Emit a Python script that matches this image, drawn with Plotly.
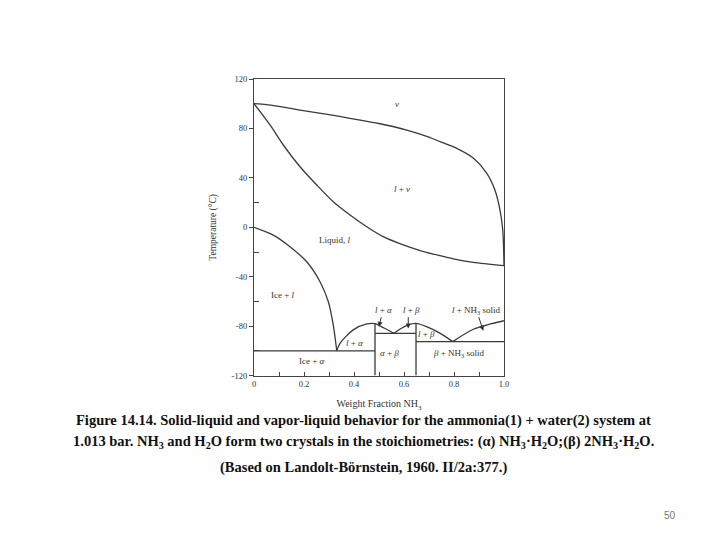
import plotly.graph_objects as go

# phase boundary data (weight fraction NH3, temperature in C)
dew_x = [0, 0.05, 0.1, 0.184, 0.3, 0.384, 0.5, 0.611, 0.7, 0.744, 0.811, 0.877, 0.93, 0.964, 0.984, 0.995, 1.0]
dew_t = [100, 99.3, 97.8, 94.9, 91.2, 88.2, 84, 78.7, 73, 69.3, 63.9, 56, 44, 30, 14, -2, -31]

bubble_x = [0, 0.064, 0.117, 0.184, 0.251, 0.317, 0.384, 0.451, 0.517, 0.597, 0.664, 0.744, 0.797, 0.877, 1.0]
bubble_t = [100, 82.8, 66.6, 49, 34.2, 20.7, 10, 0.5, -7.6, -14.3, -18.8, -23, -25.5, -28.3, -31]

ice_x = [0, 0.077, 0.144, 0.211, 0.264, 0.297, 0.317, 0.331]
ice_t = [0, -6.3, -15.7, -27.9, -44, -60, -79, -100]

alpha_x = [0.331, 0.344, 0.397, 0.451, 0.484, 0.52, 0.56]
alpha_t = [-100, -93.9, -83, -78.2, -78, -81.5, -85.8]

beta_x = [0.56, 0.59, 0.617, 0.648, 0.69, 0.745, 0.795]
beta_t = [-85.8, -81.7, -79, -77.8, -80.4, -85.8, -92.5]

nh3_x = [0.795, 0.877, 0.95, 1.0]
nh3_t = [-92.5, -82.5, -78, -75.6]

# straight boundaries: (x0, x1, t0, t1)
segments = [
    (0, 0.484, -100, -100),
    (0.484, 0.648, -85.8, -85.8),
    (0.648, 1.0, -92.5, -92.5),
    (0.484, 0.484, -120, -78),
    (0.648, 0.648, -120, -77.8),
]

region_labels = [
    ("<i>v</i>", 0.57, 100),
    ("<i>l</i> + <i>v</i>", 0.59, 31),
    ("Liquid, <i>l</i>", 0.322, -10.5),
    ("Ice + <i>l</i>", 0.117, -55),
    ("Ice + <i>α</i>", 0.231, -108),
    ("<i>l</i> + <i>α</i>", 0.4, -94),
    ("<i>α</i> + <i>β</i>", 0.54, -102),
    ("<i>l</i> + <i>β</i>", 0.69, -86.5),
    ("<i>β</i> + NH<sub>3</sub> solid", 0.817, -102),
    ("<i>l</i> + <i>α</i>", 0.517, -67),
    ("<i>l</i> + <i>β</i>", 0.63, -67),
    ("<i>l</i> + NH<sub>3</sub> solid", 0.89, -67),
]

# arrows: tail (x, t) -> tip (x, t)
arrows = [
    (0.51, -71.5, 0.50, -80.6),
    (0.617, -71.5, 0.617, -81.8),
    (0.897, -71.5, 0.917, -83.6),
]

LINE = "#3a3a3a"
SERIF = "Liberation Serif"

fig = go.Figure()
for xs, ts in [(dew_x, dew_t), (bubble_x, bubble_t), (ice_x, ice_t),
               (alpha_x, alpha_t), (beta_x, beta_t), (nh3_x, nh3_t)]:
    fig.add_trace(go.Scatter(x=xs, y=ts, mode="lines",
                             line=dict(color=LINE, width=1.3, shape="spline", smoothing=0.8),
                             showlegend=False, hoverinfo="skip"))

for x0, x1, t0, t1 in segments:
    fig.add_trace(go.Scatter(x=[x0, x1], y=[t0, t1], mode="lines",
                             line=dict(color=LINE, width=1.3),
                             showlegend=False, hoverinfo="skip"))

for txt, x, t in region_labels:
    fig.add_annotation(x=x, y=t, text=txt, showarrow=False,
                       font=dict(family=SERIF, size=9, color="#333333"))

for xa, ta, xb, tb in arrows:
    fig.add_annotation(x=xb, y=tb, ax=xa, ay=ta, axref="x", ayref="y",
                       text="", showarrow=True, arrowhead=2, arrowsize=1,
                       arrowwidth=1, arrowcolor="#333333")

caption = [
    ("Figure 14.14. Solid-liquid and vapor-liquid behavior for the ammonia(1) + water(2) system at", 0.221),
    ("1.013 bar. NH<sub>3</sub> and H<sub>2</sub>O form two crystals in the stoichiometries: "
     "(α) NH<sub>3</sub>·H<sub>2</sub>O;(β) 2NH<sub>3</sub>·H<sub>2</sub>O.", 0.181),
    ("(Based on Landolt-Börnstein, 1960. II/2a:377.)", 0.135),
]
for txt, yy in caption:
    fig.add_annotation(x=0.505, y=yy, xref="paper", yref="paper", text="<b>" + txt + "</b>",
                       xanchor="center", yanchor="middle", showarrow=False,
                       font=dict(family=SERIF, size=14.5, color="#111111"))

fig.add_annotation(x=0.93, y=0.046, xref="paper", yref="paper", text="50", showarrow=False,
                   xanchor="center", yanchor="middle",
                   font=dict(family="Liberation Sans", size=10, color="#777777"))

fig.update_layout(
    template="none",
    width=720, height=540,
    margin=dict(l=0, r=0, t=0, b=0, autoexpand=False),
    paper_bgcolor="white", plot_bgcolor="white",
    xaxis=dict(domain=[0.3528, 0.7], range=[0, 1], showgrid=False, zeroline=False, automargin=False,
               showline=True, mirror=True, linecolor="#444444", linewidth=1.2,
               ticks="inside", ticklen=4, tickcolor="#444444",
               tickvals=[0, 0.1, 0.2, 0.3, 0.4, 0.5, 0.6, 0.7, 0.8, 0.9, 1.0],
               ticktext=["0", "", "0.2", "", "0.4", "", "0.6", "", "0.8", "", "1.0"],
               tickfont=dict(family=SERIF, size=8.5, color="#333333"),
               title=dict(text="Weight Fraction NH<sub>3</sub>", standoff=12,
                          font=dict(family=SERIF, size=10, color="#333333"))),
    yaxis=dict(domain=[0.3044, 0.8537], range=[-120, 120], showgrid=False, zeroline=False, automargin=False,
               showline=True, mirror=True, linecolor="#444444", linewidth=1.2,
               ticks="outside", ticklen=4, tickcolor="#444444",
               tickvals=[-120, -80, -40, 0, 40, 80, 120],
               ticktext=["-120", "-80", "-40", "0", "40", "80", "120"],
               minor=dict(tickvals=[-100, -60, -20, 20], ticks="inside", ticklen=5, tickcolor="#444444"),
               tickfont=dict(family=SERIF, size=8.5, color="#333333"),
               title=dict(text="Temperature (°C)", standoff=13,
                          font=dict(family=SERIF, size=9.5, color="#333333"))),
)

fig.write_html("out.html", config={"displayModeBar": False},
               post_script="document.body.style.margin='0px';")
